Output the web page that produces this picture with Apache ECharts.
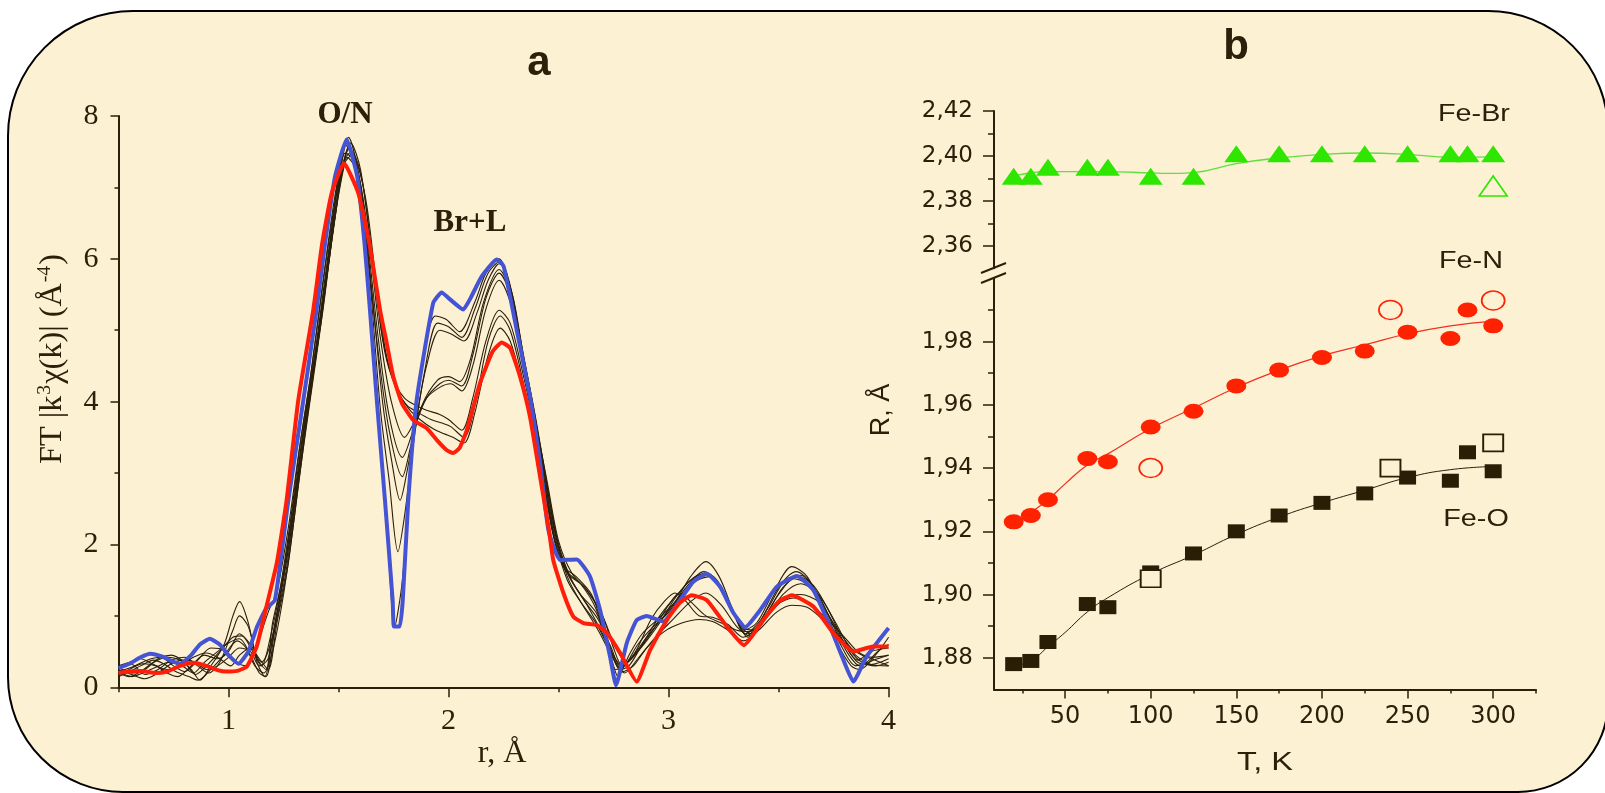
<!DOCTYPE html>
<html><head><meta charset="utf-8">
<script src="https://cdn.jsdelivr.net/npm/echarts@6/dist/echarts.min.js"></script>
<style>html,body{margin:0;padding:0;background:#fff;}#c{width:1605px;height:793px;}</style>
</head><body><div id="c"></div>
<script>
// ---------- Panel a : FT |k^3 chi(k)| vs r ----------
const rTickLabels = [1, 2, 3, 4];
const rMinorTicks = [0.5, 1.5, 2.5, 3.5];
const blueCurve = [[0.50,0.27],[0.55,0.33],[0.60,0.42],[0.645,0.47],[0.70,0.43],[0.74,0.37],[0.78,0.33],[0.83,0.45],[0.87,0.6],[0.915,0.68],[0.96,0.6],[1.00,0.45],[1.045,0.33],[1.09,0.5],[1.13,0.85],[1.17,1.1],[1.211,1.22],[1.272,2.62],[1.34,4.02],[1.40,5.28],[1.439,6.22],[1.484,7.15],[1.537,7.67],[1.585,7.15],[1.618,6.22],[1.643,5.28],[1.674,4.02],[1.711,2.62],[1.746,1.22],[1.752,0.85],[1.778,0.85],[1.792,1.22],[1.817,2.62],[1.855,4.02],[1.93,5.38],[1.969,5.53],[2.0,5.45],[2.067,5.29],[2.1,5.45],[2.15,5.75],[2.219,5.99],[2.25,5.9],[2.31,5.0],[2.37,4.07],[2.416,3.14],[2.454,2.2],[2.507,1.78],[2.583,1.79],[2.643,1.55],[2.689,1.08],[2.734,0.43],[2.761,0.03],[2.81,0.62],[2.855,0.94],[2.9,1.0],[2.976,0.92],[3.052,1.22],[3.113,1.48],[3.174,1.59],[3.234,1.41],[3.295,1.04],[3.348,0.84],[3.416,1.08],[3.492,1.41],[3.583,1.56],[3.658,1.36],[3.734,0.85],[3.795,0.38],[3.84,0.08],[3.9,0.43],[4.0,0.83]];
const redCurve = [[0.5,0.2],[0.55,0.22],[0.6,0.23],[0.67,0.2],[0.72,0.22],[0.78,0.3],[0.84,0.345],[0.9,0.3],[0.95,0.24],[0.99,0.22],[1.04,0.23],[1.083,0.29],[1.128,0.57],[1.17,1.1],[1.22,1.75],[1.264,2.62],[1.317,4.02],[1.385,5.28],[1.426,6.22],[1.469,6.92],[1.525,7.34],[1.59,6.92],[1.64,6.22],[1.689,5.28],[1.719,4.82],[1.749,4.35],[1.788,3.98],[1.84,3.74],[1.9,3.63],[1.95,3.45],[1.992,3.32],[2.02,3.28],[2.05,3.35],[2.083,3.6],[2.143,4.26],[2.2,4.7],[2.242,4.83],[2.28,4.75],[2.325,4.35],[2.37,3.79],[2.416,2.95],[2.454,2.25],[2.476,1.78],[2.522,1.32],[2.567,0.99],[2.613,0.9],[2.674,0.87],[2.72,0.76],[2.78,0.48],[2.855,0.08],[2.916,0.52],[2.992,0.94],[3.05,1.18],[3.105,1.29],[3.174,1.22],[3.265,0.85],[3.343,0.59],[3.43,0.94],[3.5,1.2],[3.56,1.29],[3.658,1.13],[3.749,0.76],[3.84,0.5],[3.93,0.57],[4.0,0.57]];
const black1 = [[0.50,0.22],[0.56,0.28],[0.63,0.38],[0.69,0.42],[0.75,0.3],[0.80,0.22],[0.86,0.38],[0.92,0.55],[0.98,0.52],[1.03,0.35],[1.08,0.3],[1.13,0.6],[1.18,1.05],[1.22,1.35],[1.27,2.2],[1.32,3.3],[1.37,4.3],[1.43,5.7],[1.49,7.0],[1.54,7.65],[1.59,7.1],[1.63,5.9],[1.68,3.8],[1.72,2.3],[1.755,0.85],[1.79,1.5],[1.83,3.1],[1.88,4.5],[1.94,5.2],[1.99,5.15],[2.05,4.98],[2.12,5.4],[2.17,5.8],[2.23,6.0],[2.28,5.6],[2.33,4.7],[2.38,3.9],[2.43,3.0],[2.47,2.2],[2.52,1.7],[2.58,1.55],[2.65,1.3],[2.7,0.85],[2.75,0.3],[2.77,0.15],[2.82,0.45],[2.88,0.75],[2.95,0.95],[3.03,1.2],[3.1,1.55],[3.17,1.76],[3.23,1.55],[3.29,1.1],[3.34,0.8],[3.4,0.9],[3.48,1.35],[3.56,1.69],[3.63,1.55],[3.7,1.1],[3.77,0.6],[3.83,0.3],[3.87,0.25],[3.94,0.45],[4.0,0.7]];
const black2 = [[0.50,0.28],[0.56,0.2],[0.62,0.25],[0.68,0.4],[0.74,0.45],[0.8,0.35],[0.85,0.18],[0.9,0.3],[0.96,0.5],[1.02,0.7],[1.06,0.72],[1.11,0.5],[1.15,0.3],[1.19,0.7],[1.23,1.3],[1.28,2.3],[1.33,3.5],[1.38,4.5],[1.44,5.9],[1.5,7.1],[1.545,7.7],[1.6,7.0],[1.64,5.8],[1.69,3.9],[1.73,2.9],[1.77,1.9],[1.8,2.4],[1.84,3.4],[1.89,4.4],[1.95,5.1],[2.0,5.05],[2.06,4.9],[2.12,5.3],[2.18,5.8],[2.235,5.97],[2.29,5.5],[2.34,4.6],[2.39,3.8],[2.44,2.9],[2.48,2.1],[2.53,1.65],[2.6,1.45],[2.67,1.1],[2.72,0.6],[2.76,0.25],[2.8,0.3],[2.86,0.6],[2.93,0.85],[3.0,1.05],[3.08,1.4],[3.16,1.62],[3.22,1.5],[3.28,1.15],[3.35,0.75],[3.42,0.95],[3.5,1.4],[3.58,1.62],[3.65,1.45],[3.72,1.0],[3.79,0.55],[3.85,0.3],[3.9,0.35],[3.95,0.5],[4.0,0.6]];
const black3 = [[0.50,0.2],[0.55,0.15],[0.6,0.22],[0.66,0.35],[0.72,0.42],[0.78,0.38],[0.83,0.25],[0.87,0.1],[0.92,0.3],[0.98,0.6],[1.02,1.0],[1.05,1.2],[1.09,0.9],[1.13,0.35],[1.165,0.15],[1.2,0.7],[1.24,1.4],[1.29,2.4],[1.34,3.6],[1.39,4.6],[1.45,6.0],[1.5,7.05],[1.55,7.55],[1.6,7.0],[1.65,5.6],[1.7,4.0],[1.74,3.2],[1.78,2.62],[1.81,3.0],[1.85,3.7],[1.9,4.5],[1.96,5.0],[2.01,4.95],[2.07,4.85],[2.13,5.25],[2.18,5.7],[2.23,5.93],[2.29,5.5],[2.34,4.65],[2.39,3.85],[2.44,2.95],[2.49,2.1],[2.54,1.6],[2.62,1.4],[2.7,1.0],[2.75,0.55],[2.79,0.3],[2.84,0.45],[2.9,0.7],[2.98,1.0],[3.06,1.3],[3.13,1.5],[3.19,1.55],[3.26,1.25],[3.33,0.85],[3.38,0.8],[3.45,1.1],[3.53,1.5],[3.6,1.57],[3.68,1.3],[3.75,0.85],[3.82,0.45],[3.87,0.3],[3.93,0.38],[4.0,0.45]];
const black4 = [[0.5,0.3],[0.56,0.32],[0.62,0.18],[0.68,0.25],[0.74,0.38],[0.8,0.42],[0.86,0.3],[0.91,0.2],[0.96,0.35],[1.02,0.8],[1.05,1.0],[1.09,0.85],[1.13,0.4],[1.17,0.25],[1.2,0.9],[1.25,1.6],[1.3,2.7],[1.35,3.8],[1.41,5.0],[1.47,6.4],[1.53,7.6],[1.58,7.3],[1.63,6.1],[1.68,4.7],[1.73,3.6],[1.79,2.95],[1.83,3.4],[1.88,3.95],[1.95,4.3],[2.0,4.35],[2.05,4.28],[2.1,4.6],[2.16,5.4],[2.23,5.85],[2.29,5.45],[2.34,4.6],[2.39,3.8],[2.44,2.95],[2.49,2.1],[2.55,1.55],[2.62,1.2],[2.68,0.95],[2.74,0.55],[2.78,0.3],[2.83,0.4],[2.9,0.65],[2.97,0.95],[3.03,1.25],[3.1,1.5],[3.17,1.6],[3.24,1.35],[3.31,0.95],[3.36,0.7],[3.43,0.95],[3.5,1.3],[3.57,1.52],[3.65,1.4],[3.72,1.05],[3.8,0.6],[3.86,0.35],[3.92,0.32],[4.0,0.4]];
const black5 = [[0.5,0.18],[0.55,0.25],[0.61,0.33],[0.67,0.3],[0.72,0.2],[0.77,0.15],[0.83,0.3],[0.89,0.45],[0.95,0.4],[1.0,0.5],[1.05,0.75],[1.1,0.6],[1.15,0.35],[1.19,0.6],[1.23,1.2],[1.28,2.1],[1.33,3.3],[1.38,4.4],[1.44,5.6],[1.49,6.7],[1.53,7.48],[1.58,7.35],[1.63,6.3],[1.68,4.9],[1.73,3.8],[1.79,3.22],[1.84,3.6],[1.9,4.05],[1.96,4.25],[2.0,4.3],[2.06,4.22],[2.11,4.65],[2.17,5.45],[2.23,5.8],[2.29,5.4],[2.35,4.5],[2.4,3.7],[2.45,2.8],[2.5,2.0],[2.56,1.5],[2.63,1.15],[2.7,0.75],[2.76,0.35],[2.8,0.2],[2.86,0.4],[2.94,0.7],[3.02,0.95],[3.1,1.2],[3.17,1.32],[3.24,1.15],[3.31,0.85],[3.37,0.72],[3.44,0.95],[3.52,1.3],[3.6,1.45],[3.68,1.3],[3.76,0.9],[3.83,0.5],[3.88,0.35],[3.94,0.3],[4.0,0.35]];
const black6 = [[0.5,0.25],[0.56,0.18],[0.62,0.12],[0.68,0.2],[0.74,0.33],[0.79,0.38],[0.85,0.35],[0.9,0.25],[0.95,0.3],[1.0,0.42],[1.05,0.55],[1.1,0.5],[1.14,0.3],[1.18,0.4],[1.22,1.0],[1.27,1.9],[1.32,3.0],[1.37,4.1],[1.43,5.4],[1.48,6.6],[1.54,7.42],[1.59,7.2],[1.64,6.2],[1.69,4.9],[1.74,4.0],[1.8,3.5],[1.85,3.75],[1.9,4.05],[1.96,4.2],[2.01,4.25],[2.06,4.15],[2.11,4.5],[2.17,5.3],[2.23,5.7],[2.29,5.3],[2.35,4.45],[2.4,3.65],[2.45,2.85],[2.5,2.05],[2.56,1.6],[2.63,1.35],[2.7,1.0],[2.76,0.55],[2.81,0.35],[2.87,0.55],[2.94,0.85],[3.0,1.15],[3.05,1.32],[3.1,1.2],[3.17,1.0],[3.24,0.9],[3.31,0.8],[3.37,0.78],[3.45,1.0],[3.53,1.25],[3.6,1.3],[3.68,1.2],[3.76,0.85],[3.83,0.55],[3.88,0.45],[3.94,0.38],[4.0,0.3]];
const black7 = [[0.5,0.15],[0.55,0.22],[0.6,0.3],[0.66,0.38],[0.71,0.32],[0.76,0.22],[0.82,0.15],[0.86,0.1],[0.92,0.25],[0.98,0.45],[1.04,0.65],[1.08,0.55],[1.12,0.3],[1.16,0.2],[1.2,0.5],[1.25,1.3],[1.3,2.4],[1.35,3.6],[1.41,4.9],[1.47,6.3],[1.52,7.3],[1.555,7.62],[1.6,7.25],[1.65,6.1],[1.7,4.9],[1.75,4.3],[1.8,4.05],[1.85,3.95],[1.9,3.88],[1.96,3.82],[2.0,3.75],[2.06,3.6],[2.11,4.05],[2.17,4.85],[2.23,5.28],[2.28,5.1],[2.33,4.5],[2.38,3.8],[2.43,3.0],[2.48,2.2],[2.54,1.6],[2.6,1.3],[2.67,1.05],[2.73,0.6],[2.78,0.25],[2.82,0.3],[2.88,0.6],[2.96,1.0],[3.04,1.3],[3.12,1.55],[3.18,1.58],[3.25,1.3],[3.32,0.9],[3.37,0.75],[3.44,1.0],[3.52,1.4],[3.59,1.55],[3.66,1.42],[3.74,1.0],[3.81,0.55],[3.86,0.38],[3.92,0.5],[4.0,0.55]];
const black8 = [[0.5,0.3],[0.55,0.35],[0.6,0.4],[0.66,0.32],[0.72,0.25],[0.78,0.3],[0.84,0.42],[0.9,0.48],[0.96,0.4],[1.01,0.3],[1.05,0.45],[1.1,0.55],[1.14,0.4],[1.18,0.25],[1.22,0.9],[1.27,1.7],[1.32,2.9],[1.37,4.0],[1.43,5.3],[1.48,6.5],[1.53,7.4],[1.56,7.5],[1.61,7.05],[1.66,5.8],[1.71,4.7],[1.76,4.2],[1.81,3.95],[1.86,3.85],[1.92,3.75],[1.97,3.7],[2.01,3.65],[2.07,3.5],[2.12,3.95],[2.18,4.85],[2.235,5.2],[2.28,5.0],[2.33,4.4],[2.38,3.7],[2.43,2.9],[2.48,2.15],[2.54,1.55],[2.6,1.2],[2.67,0.9],[2.73,0.55],[2.79,0.3],[2.85,0.5],[2.92,0.95],[2.98,1.2],[3.03,1.32],[3.08,1.2],[3.14,1.0],[3.2,0.98],[3.27,0.88],[3.34,0.7],[3.41,0.85],[3.49,1.15],[3.57,1.25],[3.65,1.15],[3.72,0.95],[3.8,0.7],[3.86,0.5],[3.93,0.42],[4.0,0.45]];
const black9 = [[0.5,0.22],[0.56,0.15],[0.61,0.2],[0.67,0.28],[0.73,0.35],[0.79,0.3],[0.84,0.2],[0.89,0.35],[0.95,0.5],[1.0,0.62],[1.05,0.68],[1.1,0.45],[1.14,0.2],[1.17,0.15],[1.21,0.8],[1.26,1.6],[1.31,2.7],[1.36,3.9],[1.42,5.1],[1.48,6.5],[1.53,7.35],[1.56,7.45],[1.62,6.9],[1.67,5.7],[1.72,4.6],[1.77,4.15],[1.82,3.9],[1.87,3.75],[1.93,3.62],[1.98,3.55],[2.02,3.5],[2.07,3.42],[2.12,3.85],[2.18,4.65],[2.235,5.03],[2.28,4.85],[2.33,4.3],[2.38,3.6],[2.43,2.85],[2.48,2.1],[2.54,1.5],[2.61,1.15],[2.68,0.8],[2.74,0.45],[2.79,0.22],[2.84,0.3],[2.9,0.55],[2.98,0.78],[3.06,0.9],[3.14,0.95],[3.2,0.92],[3.27,0.8],[3.34,0.65],[3.41,0.8],[3.49,1.05],[3.56,1.15],[3.63,1.12],[3.7,0.95],[3.78,0.7],[3.85,0.45],[3.92,0.32],[4.0,0.3]];
const blackCurves = [black1, black2, black3, black4, black5, black6, black7, black8, black9];

// ---------- Panel b : R vs T ----------
const tempK = [20, 30, 40, 63, 75, 100, 125, 150, 175, 200, 225, 250, 275, 285, 300];
const feBr = [2.391, 2.391, 2.395, 2.395, 2.395, 2.391, 2.391, 2.401, 2.401, 2.401, 2.401, 2.401, 2.401, 2.401, 2.401];
const feN = [1.923, 1.925, 1.930, 1.943, 1.942, 1.953, 1.958, 1.966, 1.971, 1.975, 1.977, 1.983, 1.981, 1.990, 1.985];
const feO = [1.878, 1.879, 1.885, 1.897, 1.896, 1.907, 1.913, 1.920, 1.925, 1.929, 1.932, 1.937, 1.936, 1.945, 1.939];
const openTempBr = [300];
const feBrOpen = [2.3866];
const openTemp = [100, 240, 300];
const feNOpen = [1.940, 1.990, 1.993];
const feOOpen = [1.905, 1.940, 1.948];
const fitTempBr = [20, 30, 40, 63, 75, 100, 110, 125, 150, 175, 200, 225, 250, 275, 300];
const feBrFit = [2.391, 2.3925, 2.393, 2.393, 2.393, 2.3924, 2.3922, 2.3926, 2.3966, 2.3991, 2.4007, 2.4013, 2.4007, 2.3994, 2.3996];
const fitTemp = [20, 30, 40, 50, 63, 75, 100, 125, 150, 175, 200, 225, 250, 275, 300];
const feNFit = [1.9225, 1.926, 1.930, 1.935, 1.941, 1.9445, 1.9525, 1.959, 1.9655, 1.971, 1.9755, 1.979, 1.9825, 1.985, 1.9865];
const feOFit = [1.8775, 1.879, 1.8835, 1.888, 1.8945, 1.899, 1.9065, 1.9125, 1.919, 1.9245, 1.929, 1.933, 1.937, 1.9395, 1.9405];
const tLabels = [50, 100, 150, 200, 250, 300];
const tMinor = [25, 75, 125, 175, 225, 275, 325];
const rUpperLabels = [2.36, 2.38, 2.40, 2.42];
const rUpperMinor = [2.37, 2.39, 2.41];
const rLowerLabels = [1.88, 1.90, 1.92, 1.94, 1.96, 1.98];
const rLowerMinor = [1.89, 1.91, 1.93, 1.95, 1.97, 1.99];

const INK = '#2b2009';
const BG = '#fdf1d4';
const SERIF = 'Liberation Serif';
const SANS = 'Liberation Sans';
const TICKF = 'DejaVu Sans';
const zip = (xs, ys) => xs.map((x, i) => [x, ys[i]]);
const comma = v => v.toFixed(2).replace('.', ',');

const chart = echarts.init(document.getElementById('c'), null, {renderer: 'canvas'});

const axLine = {show: true, lineStyle: {color: INK, width: 2}};
const noSplit = {show: false};

function txt(x, y, text, font, sx) {
  return {type: 'text', x: x, y: y, z: 50, scaleX: sx || 1,
    style: Object.assign({text: text, fill: INK, align: 'center', verticalAlign: 'middle'}, font)};
}

const option = {
  backgroundColor: '#ffffff',
  animation: false,
  graphic: [
    {type: 'rect', z: -10, silent: true,
     shape: {x: 8, y: 11, width: 1600, height: 781, r: [125, 120, 90, 115]},
     style: {fill: BG, stroke: '#000', lineWidth: 2}},
    txt(539, 63, 'a', {fontFamily: SANS, fontWeight: 'bold', fontSize: 42}),
    txt(1236, 47, 'b', {fontFamily: SANS, fontWeight: 'bold', fontSize: 42}),
    txt(345, 115, 'O/N', {fontFamily: SERIF, fontWeight: 'bold', fontSize: 31}),
    txt(470, 223, 'Br+L', {fontFamily: SERIF, fontWeight: 'bold', fontSize: 31}),
    txt(1474, 115, 'Fe-Br', {fontFamily: SANS, fontSize: 23}, 1.25),
    txt(1471, 262, 'Fe-N', {fontFamily: SANS, fontSize: 23}, 1.25),
    txt(1476, 520, 'Fe-O', {fontFamily: SANS, fontSize: 23}, 1.25),
    txt(1265, 763, 'T, K', {fontFamily: SANS, fontSize: 26}, 1.25),
    txt(502, 754, 'r, Å', {fontFamily: SERIF, fontSize: 32}),
    {type: 'text', x: 882, y: 410, rotation: Math.PI / 2, z: 50,
     style: {text: 'R, Å', fill: INK, align: 'center', verticalAlign: 'middle', fontFamily: SANS, fontSize: 27}},
    {type: 'text', x: 53, y: 359, rotation: Math.PI / 2, scaleX: 1.04, z: 50,
     style: {text: '{a|FT |k}{s|3}{a|χ(k)| (Å}{s|-4}{a|)}', fill: INK, align: 'center', verticalAlign: 'middle',
       rich: {a: {fontFamily: SERIF, fontSize: 31, fill: INK},
              s: {fontFamily: SERIF, fontSize: 19, fill: INK, padding: [0, 1, 16, 1]}}}},
    // axis break marks
    {type: 'line', z: 60, shape: {x1: 981, y1: 273, x2: 1006, y2: 263}, style: {stroke: INK, lineWidth: 2}},
    {type: 'line', z: 60, shape: {x1: 981, y1: 283, x2: 1006, y2: 273}, style: {stroke: INK, lineWidth: 2}}
  ],
  grid: [
    {left: 118.5, top: 116, width: 770.1, height: 571.3},
    {left: 994, top: 111, width: 542, height: 157.2},
    {left: 994, top: 278.4, width: 542, height: 411}
  ],
  xAxis: [
    {type: 'value', gridIndex: 0, position: 'bottom', min: 0.5, max: 4,
     axisLine: axLine, splitLine: noSplit,
     axisTick: {show: true, customValues: rTickLabels, length: 10, lineStyle: {color: INK, width: 1.5}},
     axisLabel: {customValues: rTickLabels, color: INK, fontFamily: SERIF, fontSize: 30, margin: 19}},
    {type: 'value', gridIndex: 0, position: 'bottom', min: 0.5, max: 4,
     axisLine: {show: false}, splitLine: noSplit,
     axisTick: {show: true, customValues: rMinorTicks, length: 5, lineStyle: {color: INK, width: 1.5}},
     axisLabel: {show: false}},
    {type: 'value', gridIndex: 1, min: 8.5, max: 325, show: false},
    {type: 'value', gridIndex: 2, position: 'bottom', min: 8.5, max: 325,
     axisLine: axLine, splitLine: noSplit,
     axisTick: {show: true, customValues: tLabels, length: 9, lineStyle: {color: INK, width: 1.5}},
     axisLabel: {customValues: tLabels, color: INK, fontFamily: TICKF, fontSize: 24, margin: 15}},
    {type: 'value', gridIndex: 2, position: 'bottom', min: 8.5, max: 325,
     axisLine: {show: false}, splitLine: noSplit,
     axisTick: {show: true, customValues: tMinor, length: 4, lineStyle: {color: INK, width: 1.5}},
     axisLabel: {show: false}}
  ],
  yAxis: [
    {type: 'value', gridIndex: 0, min: 0, max: 8, interval: 2,
     axisLine: axLine, splitLine: noSplit,
     axisTick: {show: true, length: 8, lineStyle: {color: INK, width: 1.5}},
     minorTick: {show: true, splitNumber: 2, length: 4, lineStyle: {color: INK, width: 1.5}},
     minorSplitLine: {show: false},
     axisLabel: {color: INK, fontFamily: SERIF, fontSize: 30, margin: 20}},
    {type: 'value', gridIndex: 1, position: 'left', min: 2.35, max: 2.42,
     axisLine: axLine, splitLine: noSplit,
     axisTick: {show: true, customValues: rUpperLabels, length: 11, lineStyle: {color: INK, width: 1.5}},
     axisLabel: {customValues: rUpperLabels, formatter: comma, color: INK, fontFamily: TICKF, fontSize: 23, margin: 21}},
    {type: 'value', gridIndex: 1, position: 'left', min: 2.35, max: 2.42,
     axisLine: {show: false}, splitLine: noSplit,
     axisTick: {show: true, customValues: rUpperMinor, length: 6, lineStyle: {color: INK, width: 1.5}},
     axisLabel: {show: false}},
    {type: 'value', gridIndex: 2, position: 'left', min: 1.87, max: 2.00,
     axisLine: axLine, splitLine: noSplit,
     axisTick: {show: true, customValues: rLowerLabels, length: 11, lineStyle: {color: INK, width: 1.5}},
     axisLabel: {customValues: rLowerLabels, formatter: comma, color: INK, fontFamily: TICKF, fontSize: 23, margin: 21}},
    {type: 'value', gridIndex: 2, position: 'left', min: 1.87, max: 2.00,
     axisLine: {show: false}, splitLine: noSplit,
     axisTick: {show: true, customValues: rLowerMinor, length: 6, lineStyle: {color: INK, width: 1.5}},
     axisLabel: {show: false}}
  ],
  series: []
};

blackCurves.forEach((c, i) => option.series.push({
  name: 'black' + (i + 1), type: 'line', xAxisIndex: 0, yAxisIndex: 0, data: c,
  showSymbol: false, smooth: 0.3, clip: true, z: 3,
  lineStyle: {color: '#2a1f0c', width: 1.1}
}));
option.series.push({name: 'blue', type: 'line', xAxisIndex: 0, yAxisIndex: 0, data: blueCurve,
  showSymbol: false, smooth: 0.15, z: 4, lineStyle: {color: '#4454d4', width: 4, join: 'round'}});
option.series.push({name: 'red', type: 'line', xAxisIndex: 0, yAxisIndex: 0, data: redCurve,
  showSymbol: false, smooth: 0.15, z: 5, lineStyle: {color: '#ff1e0a', width: 4, join: 'round'}});

// panel b fits
option.series.push({type: 'line', xAxisIndex: 2, yAxisIndex: 1, data: zip(fitTempBr, feBrFit), smooth: true,
  showSymbol: false, z: 3, lineStyle: {color: '#5fe040', width: 1.3}});
option.series.push({type: 'line', xAxisIndex: 3, yAxisIndex: 3, data: zip(fitTemp, feNFit), smooth: true,
  showSymbol: false, z: 3, lineStyle: {color: '#f03020', width: 1.2}});
option.series.push({type: 'line', xAxisIndex: 3, yAxisIndex: 3, data: zip(fitTemp, feOFit), smooth: true,
  showSymbol: false, z: 3, lineStyle: {color: '#2a1f0c', width: 1}});
// panel b points
option.series.push({type: 'scatter', xAxisIndex: 2, yAxisIndex: 1, data: zip(tempK, feBr),
  symbol: 'triangle', symbolSize: [24, 17], z: 6, itemStyle: {color: '#2ee600', opacity: 1}});
option.series.push({type: 'scatter', xAxisIndex: 2, yAxisIndex: 1, data: zip(openTempBr, feBrOpen),
  symbol: 'triangle', symbolSize: [28, 20], z: 6, itemStyle: {color: 'rgba(0,0,0,0)', borderColor: '#2ee600', borderWidth: 1.6, opacity: 1}});
option.series.push({type: 'scatter', xAxisIndex: 3, yAxisIndex: 3, data: zip(tempK, feN),
  symbol: 'circle', symbolSize: [20, 15], z: 6, itemStyle: {color: '#ff2200', opacity: 1}});
option.series.push({type: 'scatter', xAxisIndex: 3, yAxisIndex: 3, data: zip(openTemp, feNOpen),
  symbol: 'circle', symbolSize: [23, 19], z: 6, itemStyle: {color: 'rgba(0,0,0,0)', borderColor: '#ff2200', borderWidth: 1.6, opacity: 1}});
option.series.push({type: 'scatter', xAxisIndex: 3, yAxisIndex: 3, data: zip(tempK, feO),
  symbol: 'rect', symbolSize: [17, 14], z: 6, itemStyle: {color: '#2a1e06', opacity: 1}});
option.series.push({type: 'scatter', xAxisIndex: 3, yAxisIndex: 3, data: zip(openTemp, feOOpen),
  symbol: 'rect', symbolSize: [20, 17], z: 7, itemStyle: {color: BG, borderColor: '#2a1e06', borderWidth: 1.8, opacity: 1}});

chart.setOption(option);
</script></body></html>
